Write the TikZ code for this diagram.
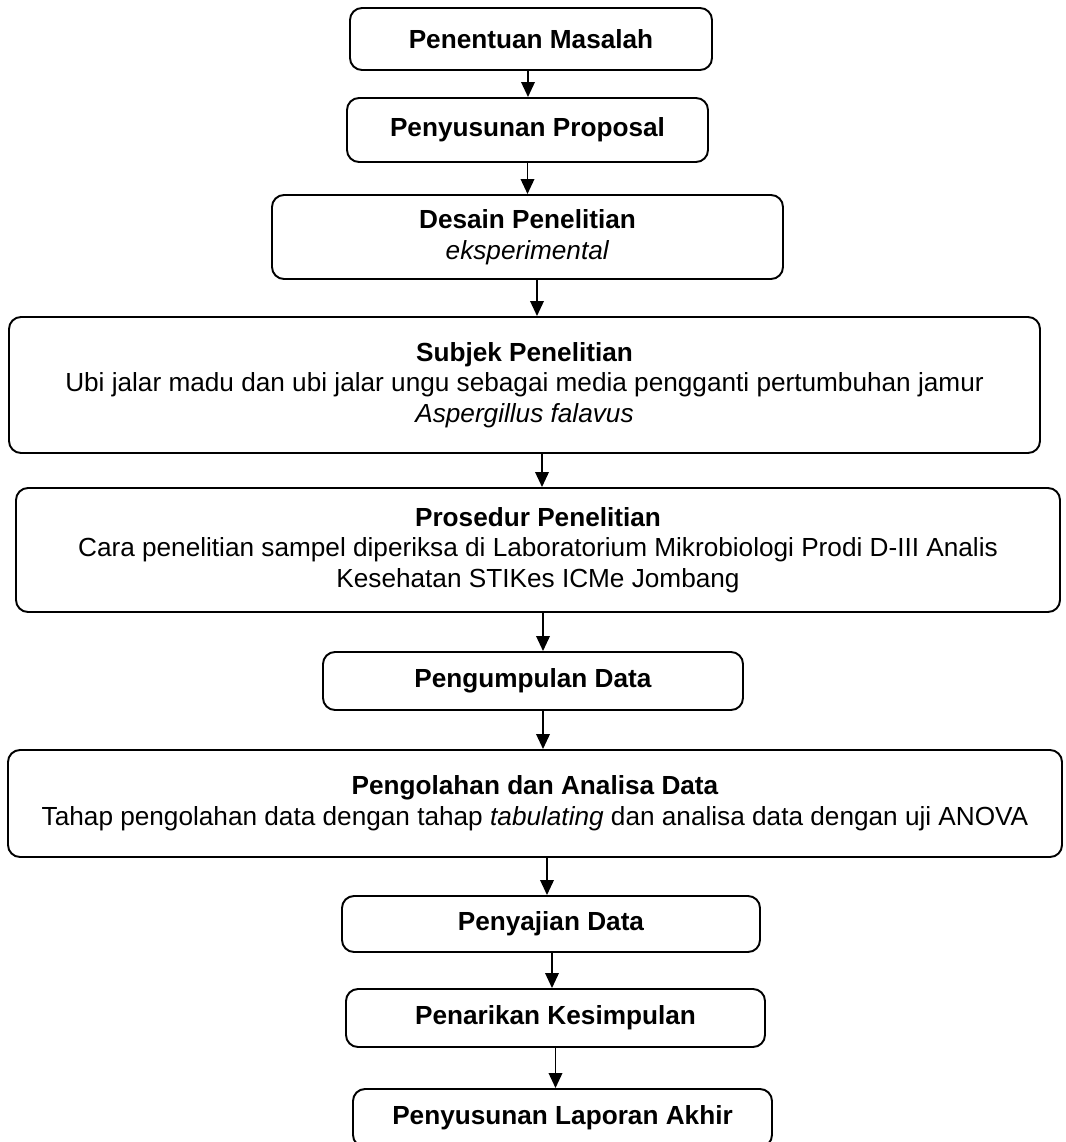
\documentclass[tikz,border=0pt]{standalone}
\usepackage{fontspec}
\setmainfont{Liberation Sans}
\usepackage{tikz}
\usetikzlibrary{arrows.meta, positioning, calc}

\begin{document}
\begin{tikzpicture}[every node/.style={font=\fontsize{14.9}{17.4}\selectfont},
  stage/.style={draw, line width=1.1pt, rounded corners=0.24cm, align=center, inner sep=2pt},
  arr/.style={line width=1.1pt, -{Triangle[length=0.3cm, width=0.27cm]}}]
  \useasboundingbox (0,0) rectangle (21.3,-22.84);

  \node[stage, minimum width=7.24cm, minimum height=1.24cm] (pm) at (10.62,-0.78) {\textbf{Penentuan Masalah}};
  \node[stage, minimum width=7.22cm, minimum height=1.28cm] (pp) at (10.55,-2.60) {\textbf{Penyusunan Proposal}};
  \node[stage, minimum width=10.22cm, minimum height=1.68cm] (dp) at (10.55,-4.74) {\textbf{Desain Penelitian}\\\textit{eksperimental}};
  \node[stage, minimum width=20.62cm, minimum height=2.72cm] (sp) at (10.49,-7.70)
    {\textbf{Subjek Penelitian}\\Ubi jalar madu dan ubi jalar ungu sebagai media pengganti pertumbuhan jamur\\\textit{Aspergillus falavus}};
  \node[stage, minimum width=20.88cm, minimum height=2.48cm] (pr) at (10.76,-11.00)
    {\textbf{Prosedur Penelitian}\\Cara penelitian sampel diperiksa di Laboratorium Mikrobiologi Prodi D-III Analis\\Kesehatan STIKes ICMe Jombang};
  \node[stage, minimum width=8.40cm, minimum height=1.16cm] (pd) at (10.66,-13.62) {\textbf{Pengumpulan Data}};
  \node[stage, minimum width=21.08cm, minimum height=2.14cm] (pa) at (10.70,-16.07)
    {\textbf{Pengolahan dan Analisa Data}\\Tahap pengolahan data dengan tahap \textit{tabulating} dan analisa data dengan uji ANOVA};
  \node[stage, minimum width=8.36cm, minimum height=1.12cm] (sd) at (11.02,-18.48) {\textbf{Penyajian Data}};
  \node[stage, minimum width=8.38cm, minimum height=1.16cm] (pk) at (11.11,-20.36) {\textbf{Penarikan Kesimpulan}};
  \node[stage, minimum width=8.38cm, minimum height=1.16cm] (pl) at (11.25,-22.36) {\textbf{Penyusunan Laporan Akhir}};

  \draw[arr] ([xshift=-0.06cm]pm.south) -- ([xshift=-0.06cm]pm.south |- pp.north);
  \draw[arr] (pp.south) -- (pp.south |- dp.north);
  \draw[arr] ([xshift=0.19cm]dp.south) -- ([xshift=0.19cm]dp.south |- sp.north);
  \draw[arr] ([xshift=0.35cm]sp.south) -- ([xshift=0.35cm]sp.south |- pr.north);
  \draw[arr] ([xshift=0.10cm]pr.south) -- ([xshift=0.10cm]pr.south |- pd.north);
  \draw[arr] ([xshift=0.20cm]pd.south) -- ([xshift=0.20cm]pd.south |- pa.north);
  \draw[arr] ([xshift=0.24cm]pa.south) -- ([xshift=0.24cm]pa.south |- sd.north);
  \draw[arr] ([xshift=0.02cm]sd.south) -- ([xshift=0.02cm]sd.south |- pk.north);
  \draw[arr] (pk.south) -- (pk.south |- pl.north);
\end{tikzpicture}
\end{document}
